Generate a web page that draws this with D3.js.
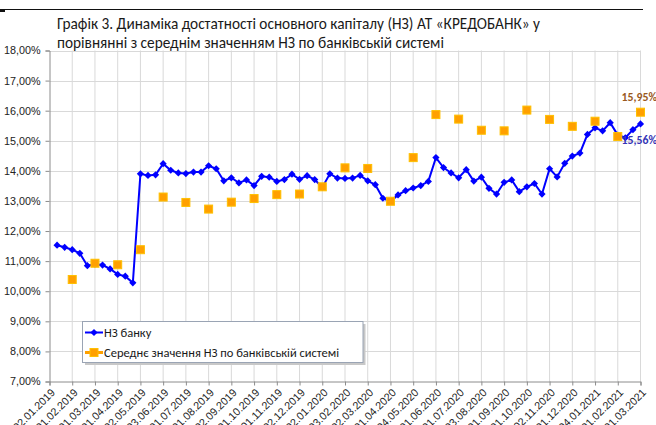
<!DOCTYPE html>
<html><head><meta charset="utf-8">
<script src="https://cdn.jsdelivr.net/npm/d3@7"></script>
<style>
html,body{margin:0;padding:0;background:#fff;}
svg{display:block;font-family:Carlito,Lato,"Liberation Sans",sans-serif;}
</style></head>
<body><svg id="c" width="656" height="425"></svg>
<script>
// Monthly tick labels (every 3rd dekad category)
const tickLabels = ["02.01.2019","01.02.2019","01.03.2019","01.04.2019","02.05.2019","03.06.2019","01.07.2019","01.08.2019","02.09.2019","01.10.2019","01.11.2019","02.12.2019","02.01.2020","03.02.2020","02.03.2020","01.04.2020","04.05.2020","01.06.2020","01.07.2020","03.08.2020","01.09.2020","01.10.2020","02.11.2020","01.12.2020","04.01.2021","01.02.2021","01.03.2021"];
// Bank N3 (dekad values, %), 79 categories
const bankN3 = [null,11.53,11.46,11.38,11.26,10.85,10.90,10.87,10.74,10.56,10.50,10.28,
13.90,13.85,13.87,14.24,14.02,13.93,13.91,13.96,13.96,14.17,14.07,13.67,13.77,13.60,13.70,
13.51,13.82,13.79,13.65,13.71,13.89,13.72,13.84,13.71,13.45,13.90,13.76,13.75,13.76,13.85,
13.67,13.54,13.09,12.98,13.20,13.34,13.43,13.51,13.65,14.44,14.11,13.93,13.77,14.04,13.66,
13.79,13.42,13.23,13.62,13.70,13.31,13.47,13.58,13.23,14.07,13.80,14.25,14.49,14.59,15.21,
15.43,15.33,15.60,15.19,15.10,15.37,15.56];
// Banking system average N3 (monthly, aligned to tickLabels)
const systemN3 = [null,10.39,10.93,10.88,11.38,13.13,12.95,12.73,12.96,13.08,13.21,13.23,13.47,
14.10,14.08,12.99,14.44,15.87,15.72,15.35,15.33,16.02,15.71,15.48,15.65,15.14,15.95];
const yTicks = [7,8,9,10,11,12,13,14,15,16,17,18];
const seriesNames = ["НЗ банку","Середнє значення НЗ по банківській системі"];
const titleLines = ["Графік 3. Динаміка достатності основного капіталу (НЗ) АТ «КРЕДОБАНК» у","порівнянні з середнім значенням НЗ по банківській системі"];
const endLabels = ["15,95%","15,56%"];

const svg = d3.select("#c");
const L = 49.5, R = 640.5, T = 50.5, B = 381.5;
const idx = d3.range(bankN3.length);
const x = d3.scalePoint().domain(idx).range([L, R]).padding(0);
const y = d3.scaleLinear().domain([7, 18]).range([B, T]);
const step = 3;
const fmt = v => v.toFixed(2).replace(".", ",") + "%";

// top rule
svg.append("line").attr("x1",0).attr("x2",643).attr("y1",9.5).attr("y2",9.5).attr("stroke","#111").attr("stroke-width",1.2);
svg.append("rect").attr("x",0).attr("y",10).attr("width",5).attr("height",2).attr("fill","#111");

// title
svg.append("g").selectAll("text").data(titleLines).join("text")
  .attr("x",57).attr("y",(d,i)=>24+i*18.5).attr("dy","0.35em")
  .attr("font-size",15.3).attr("fill","#1a1a1a").text(d=>d);

// gridlines
const g = svg.append("g");
g.selectAll(".hg").data(yTicks.slice(1)).join("line")
  .attr("x1",L).attr("x2",R).attr("y1",d=>Math.round(y(d))+0.5).attr("y2",d=>Math.round(y(d))+0.5)
  .attr("stroke","#d9d9d9").attr("stroke-width",1);
g.selectAll(".vg").data(tickLabels.map((d,i)=>i).slice(1)).join("line")
  .attr("x1",i=>x(i*step)).attr("x2",i=>x(i*step)).attr("y1",T).attr("y2",B)
  .attr("stroke","#d9d9d9").attr("stroke-width",1);

// y axis
const yAxis = d3.axisLeft(y).tickValues(yTicks).tickSize(4).tickPadding(5).tickFormat(fmt);
const ya = svg.append("g").attr("transform",`translate(${L},0)`).call(yAxis);
ya.select(".domain").attr("stroke","#8c8c8c");
ya.selectAll(".tick line").attr("stroke","#8c8c8c");
ya.selectAll("text").attr("font-size",10.8).attr("fill","#222").attr("font-family",null);

// x axis
const xAxis = d3.axisBottom(x).tickValues(tickLabels.map((d,i)=>i*step)).tickSize(4).tickFormat(v=>tickLabels[v/step]);
const xa = svg.append("g").attr("transform",`translate(0,${B})`).call(xAxis);
xa.select(".domain").attr("stroke","#8c8c8c");
xa.selectAll(".tick line").attr("stroke","#8c8c8c");
xa.selectAll("text").attr("font-size",10.8).attr("fill","#222").attr("font-family",null)
  .attr("text-anchor","end").attr("y",0).attr("dy","0.35em")
  .attr("transform","translate(3,9) rotate(-45)");

// bank line
const line = d3.line().defined(d=>d!=null).x((d,i)=>x(i)).y(d=>y(d));
svg.append("path").datum(bankN3).attr("d",line).attr("fill","none").attr("stroke","#0000ff").attr("stroke-width",2);
const dia = "M0,-3.6L3.6,0L0,3.6L-3.6,0Z";
svg.append("g").selectAll("path").data(idx.filter(i=>bankN3[i]!=null)).join("path")
  .attr("d",dia).attr("transform",i=>`translate(${x(i)},${y(bankN3[i])})`).attr("fill","#0000ff");

// system squares
svg.append("g").selectAll("rect").data(systemN3.map((v,i)=>({v,i})).filter(d=>d.v!=null)).join("rect")
  .attr("x",d=>x(d.i*step)-4).attr("y",d=>y(d.v)-4).attr("width",8).attr("height",8)
  .attr("fill","#ffa000").attr("stroke","#ffc000").attr("stroke-width",1);

// end labels
svg.append("text").attr("x",621.5).attr("y",97).attr("dy","0.35em").attr("font-size",11.8).attr("font-weight","bold")
  .attr("fill","#9a5a1e").text(endLabels[0]);
svg.append("text").attr("x",621.5).attr("y",140).attr("dy","0.35em").attr("font-size",11.8).attr("font-weight","bold")
  .attr("fill","#3535b5").text(endLabels[1]);

// legend
const lg = svg.append("g");
lg.append("rect").attr("x",85).attr("y",324).attr("width",280.5).attr("height",41).attr("fill","#c8c8c8");
lg.append("rect").attr("x",82.5).attr("y",321.5).attr("width",280.5).attr("height",41).attr("fill","#fff").attr("stroke","#9aa4b4");
lg.append("line").attr("x1",85).attr("x2",103).attr("y1",332.5).attr("y2",332.5).attr("stroke","#0000ff").attr("stroke-width",2);
lg.append("path").attr("d",dia).attr("transform","translate(94,332.5)").attr("fill","#0000ff");
lg.append("line").attr("x1",85).attr("x2",103).attr("y1",352.5).attr("y2",352.5).attr("stroke","#ffa000").attr("stroke-width",3);
lg.append("rect").attr("x",90).attr("y",348.5).attr("width",8).attr("height",8).attr("fill","#ffa000").attr("stroke","#ffc000");
lg.selectAll("text").data(seriesNames).join("text")
  .attr("x",104).attr("y",(d,i)=>332.5+i*20.3).attr("dy","0.35em").attr("font-size",12.5).attr("fill","#1a1a1a").text(d=>d);
</script></body></html>
